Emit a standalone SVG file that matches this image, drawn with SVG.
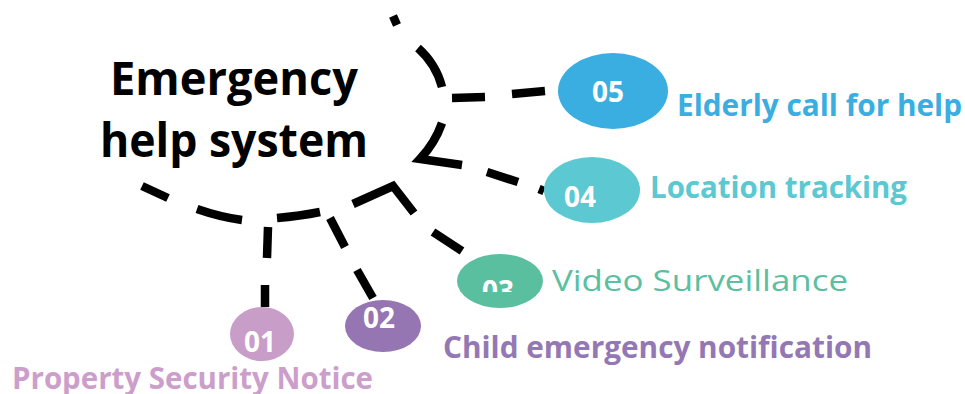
<svg xmlns="http://www.w3.org/2000/svg" width="965" height="394" viewBox="0 0 965 394">
  <defs>
    <style>
      .dash { fill: none; stroke: #000; stroke-width: 8.5; stroke-linecap: butt; stroke-linejoin: miter; }
      .title { font-family: "Open Sans", "Noto Sans", "DejaVu Sans", sans-serif; font-weight: 700; font-size: 47px; fill: #000; }
      .num { font-family: "Open Sans", "Noto Sans", sans-serif; font-weight: 700; font-size: 28px; fill: #fff; text-anchor: middle; }
      .lbl { font-family: "Open Sans", "Noto Sans", sans-serif; font-weight: 700; font-size: 29.5px; }
      .lbl-reg { font-family: "Open Sans", "Noto Sans", sans-serif; font-weight: 400; font-size: 30px; }
    </style>
    <clipPath id="clip03">
      <rect x="450" y="255" width="100" height="37"/>
    </clipPath>
  </defs>

  <!-- central title -->
  <g id="center">
    <text class="title" x="110" y="95" textLength="248" lengthAdjust="spacingAndGlyphs">Emergency</text>
    <text class="title" x="100" y="157" textLength="268" lengthAdjust="spacingAndGlyphs">help system</text>
  </g>

  <!-- dashed ring around the title and dashed links to the items -->
  <g id="connectors">
    <path class="dash" d="M393,16 L397,25"/>
    <path class="dash" d="M418,48 Q436,64 442,87"/>
    <path class="dash" d="M442,123 Q435,143 420,159 L462,165"/>
    <path class="dash" d="M487,172 L518,182"/>
    <path class="dash" d="M539,189 L544,191"/>
    <path class="dash" d="M353,204 L393,186 L414,213"/>
    <path class="dash" d="M320,212 Q300,216 277,218"/>
    <path class="dash" d="M242,220 Q220,217 197,209"/>
    <path class="dash" d="M168,198 L142,186"/>
    <!-- 05 -->
    <path class="dash" d="M452,98 L485,97"/>
    <path class="dash" d="M512,94 L545,91"/>
    <!-- 03 -->
    <path class="dash" d="M433,232 L462,251"/>
    <!-- 02 -->
    <path class="dash" d="M330,218 L345,247"/>
    <path class="dash" d="M357,270 L373,298"/>
    <!-- 01 -->
    <path class="dash" d="M268,227 L267,258"/>
    <path class="dash" d="M265,285 L265,307"/>
  </g>

  <g id="item05">
    <ellipse cx="613" cy="91" rx="55" ry="38" fill="#3AAEE0"/>
    <text class="num" x="608" y="102">05</text>
    <text class="lbl" x="677" y="116" fill="#3AAEE0" textLength="285" lengthAdjust="spacingAndGlyphs">Elderly call for help</text>
  </g>

  <g id="item04">
    <ellipse cx="592" cy="190" rx="48" ry="33" fill="#5BC8D2"/>
    <text class="num" x="580" y="207">04</text>
    <text class="lbl" x="650" y="198" fill="#5BC8D2" textLength="257" lengthAdjust="spacingAndGlyphs">Location tracking</text>
  </g>

  <g id="item03">
    <ellipse cx="500" cy="281" rx="43" ry="27" fill="#5ABF9F"/>
    <text class="num" x="498" y="301" clip-path="url(#clip03)">03</text>
    <text class="lbl-reg" x="552" y="291" fill="#5BBFA0" textLength="296" lengthAdjust="spacingAndGlyphs">Video Surveillance</text>
  </g>

  <g id="item02">
    <ellipse cx="383" cy="326" rx="38" ry="26" fill="#9575B2"/>
    <text class="num" x="379" y="328">02</text>
    <text class="lbl" x="443" y="358" fill="#9478B4" textLength="429" lengthAdjust="spacingAndGlyphs">Child emergency notification</text>
  </g>

  <g id="item01">
    <ellipse cx="262" cy="334" rx="32" ry="27" fill="#C89DC8"/>
    <text class="num" x="260" y="352">01</text>
    <text class="lbl" x="12" y="389" fill="#CC9ECB" textLength="361" lengthAdjust="spacingAndGlyphs">Property Security Notice</text>
  </g>
</svg>
